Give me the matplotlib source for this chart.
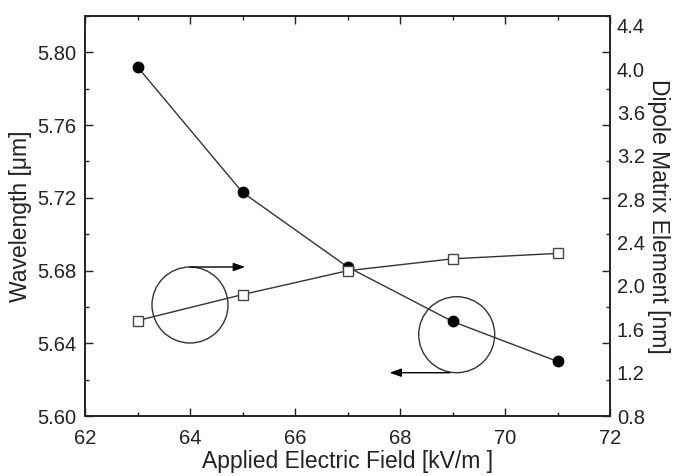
import matplotlib
matplotlib.use("Agg")
import matplotlib.pyplot as plt
from matplotlib.patches import Ellipse
import numpy as np

plt.rcParams['font.family'] = ['Liberation Sans', 'DejaVu Sans']

field = [63, 65, 67, 69, 71]
wavelength = [5.792, 5.723, 5.682, 5.652, 5.630]
dipole = [1.68, 1.92, 2.14, 2.25, 2.30]

x_ticks = [62, 64, 66, 68, 70, 72]
left_ticks = [5.60, 5.64, 5.68, 5.72, 5.76, 5.80]
right_ticks = [0.8, 1.2, 1.6, 2.0, 2.4, 2.8, 3.2, 3.6, 4.0, 4.4]

fig = plt.figure(figsize=(6.78, 4.76), dpi=100)
ax = fig.add_axes([85/678, 60/476, 525/678, 400/476])
ax2 = ax.twinx()

lc = '#333333'
ax.plot(field, wavelength, '-', color=lc, lw=1.0, marker='o', ms=7.5,
        mfc='black', mec='black', zorder=3)
ax2.plot(field, dipole, '-', color=lc, lw=1.0, marker='s', ms=7,
         mfc='white', mec='#444444', mew=1.0, zorder=3)

ax.set_xlim(62, 72)
ax.set_ylim(5.60, 5.8196)
ax2.set_ylim(0.8, 4.49)

ax.set_xticks(x_ticks)
ax.set_xticks(np.arange(63, 72, 2), minor=True)
ax.set_yticks(left_ticks)
ax.set_yticklabels([f"{v:.2f}" for v in left_ticks])
ax.set_yticks(np.arange(5.62, 5.82, 0.04), minor=True)

tc = '#222222'
ax.tick_params(which='both', direction='in', top=True, right=True,
               labelsize=14.5, colors=tc, width=1.0)
ax.tick_params(axis='x', which='major', length=6, pad=9)
ax.tick_params(axis='y', which='major', length=6, pad=6)
ax.tick_params(which='minor', length=3)

ax2.set_yticks(right_ticks)
ax2.set_yticklabels([f"{v:.1f}" for v in right_ticks])
ax2.tick_params(axis='y', length=0, labelsize=14.5, colors=tc, pad=5)

for a in (ax, ax2):
    for s in a.spines.values():
        s.set_linewidth(1.2)
        s.set_color(tc)

ax.set_xlabel('Applied Electric Field [kV/m ]', fontsize=16.5, color=tc, labelpad=2)
ax.set_ylabel('Wavelength [\u03bcm]', fontsize=16.5, color=tc, labelpad=4)
ax2.set_ylabel('Dipole Matrix Element [nm]', fontsize=16.5, color=tc,
               rotation=-90, labelpad=18)

# annotation circles and arrows (axes fraction coordinates)
rx = 38/525
ry = 38/400
c1 = ((64 - 62) / 10, (416 - 305) / 400)
c2 = ((69.08 - 62) / 10, (416 - 334.7) / 400)
for c in (c1, c2):
    ax.add_patch(Ellipse(c, 2*rx, 2*ry, transform=ax.transAxes, fill=False,
                         ec='#333333', lw=1.0, zorder=2))

ax.annotate('', xy=(65.05, c1[1] + ry), xycoords=('data', 'axes fraction'),
            xytext=(64.0, c1[1] + ry), textcoords=('data', 'axes fraction'),
            arrowprops=dict(arrowstyle='-|>,head_length=0.7,head_width=0.25',
                            color='black', lw=1.0, shrinkA=0, shrinkB=0))
ax.annotate('', xy=(67.8, c2[1] - ry), xycoords=('data', 'axes fraction'),
            xytext=(68.95, c2[1] - ry), textcoords=('data', 'axes fraction'),
            arrowprops=dict(arrowstyle='-|>,head_length=0.7,head_width=0.25',
                            color='black', lw=1.0, shrinkA=0, shrinkB=0))

fig.savefig('out.png', dpi=100)
